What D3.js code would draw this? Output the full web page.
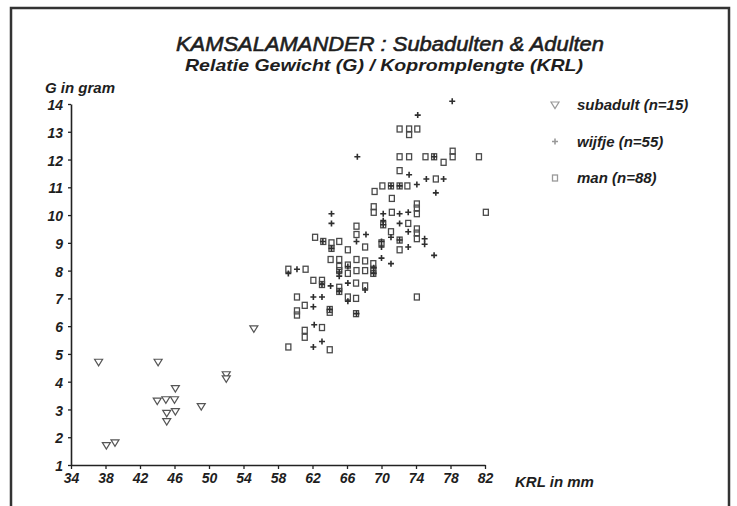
<!DOCTYPE html>
<html lang="nl">
<head>
  <meta charset="utf-8" />
  <script src="https://d3js.org/d3.v7.min.js"></script>
  <style>
    body { margin: 0; background: #fff; }
    svg text { fill: #1e1e1e; }
    .lbl { font-family: "Liberation Sans Narrow", "Liberation Sans", Arial, sans-serif; font-style: italic; font-weight: bold; }
  </style>
</head>
<body>
  <script>
    var width = 737,
      height = 506;

    // KRL (mm), G (gram)
    var xTicks = [34, 38, 42, 46, 50, 54, 58, 62, 66, 70, 74, 78, 82];
    var yTicks = [1, 2, 3, 4, 5, 6, 7, 8, 9, 10, 11, 12, 13, 14];

    var subadult = [
      [37.2, 4.7], [44.1, 4.7], [55.2, 5.9], [52.0, 4.25], [52.0, 4.1],
      [46.1, 3.75], [44.0, 3.3], [45.0, 3.35], [46.0, 3.35], [45.1, 2.86],
      [46.1, 2.92], [45.1, 2.56], [49.1, 3.1], [38.1, 1.7], [39.1, 1.8]
    ];

    var wijfje = [
      [78.2, 14.1], [74.2, 13.6], [67.2, 12.1], [76.1, 12.1], [73.2, 11.45],
      [75.2, 11.3], [77.2, 11.3], [71.1, 11.05], [72.1, 11.05], [74.1, 11.1],
      [76.3, 10.8], [70.2, 10.05], [70.2, 9.8], [72.1, 10.05], [64.2, 10.05],
      [64.2, 9.7], [72.1, 9.7], [73.1, 9.4], [75.0, 9.15], [75.0, 8.95],
      [67.1, 9.05], [68.2, 9.3], [70.0, 9.05], [70.0, 8.85], [72.1, 9.1],
      [73.1, 8.85], [76.1, 8.55], [63.2, 9.05], [64.2, 8.8], [70.0, 8.45],
      [71.1, 8.25], [69.1, 8.1], [66.1, 8.15], [65.1, 7.95], [59.2, 7.9],
      [60.2, 8.05], [63.1, 7.5], [64.1, 7.45], [66.1, 7.55], [65.1, 7.25],
      [68.1, 7.3], [62.1, 7.05], [63.1, 7.05], [66.1, 6.9], [62.1, 6.7],
      [64.0, 6.6], [67.1, 6.45], [62.2, 6.05], [63.1, 5.45], [62.1, 5.25],
      [71.1, 9.2], [69.1, 7.9], [65.1, 7.8], [70.2, 9.65], [73.1, 10.1]
    ];

    var man = [
      [72.1, 13.1], [73.2, 13.1], [73.2, 12.9], [74.15, 13.1], [72.1, 12.1],
      [73.2, 12.1], [75.1, 12.1], [77.2, 11.9], [78.25, 12.3], [78.25, 12.1],
      [81.3, 12.1], [72.1, 11.6], [76.3, 11.3], [69.2, 10.85], [70.1, 11.05],
      [73.0, 11.05], [82.1, 10.1], [71.2, 10.6], [69.1, 10.3], [69.1, 10.1],
      [71.2, 10.1], [74.1, 10.4], [74.1, 10.25], [74.1, 10.05], [73.1, 9.7],
      [74.1, 9.5], [74.1, 9.35], [74.1, 9.15], [71.1, 9.4], [67.1, 9.6],
      [67.1, 9.3], [72.1, 8.75], [62.3, 9.2], [64.2, 9.0], [65.1, 9.05],
      [66.1, 8.75], [68.1, 8.85], [67.1, 8.4], [68.1, 8.35], [69.05, 8.25],
      [69.05, 8.05], [64.1, 8.4], [65.1, 8.4], [65.1, 8.15], [66.1, 7.9],
      [67.1, 8.0], [68.1, 8.0], [59.2, 8.05], [61.2, 8.05], [62.1, 7.65],
      [63.1, 7.65], [65.1, 7.4], [67.05, 7.55], [68.1, 7.45], [60.2, 7.05],
      [66.1, 7.05], [67.05, 7.0], [74.1, 7.05], [61.1, 6.75], [64.0, 6.6],
      [60.2, 6.55], [60.2, 6.4], [63.1, 5.95], [61.1, 5.85], [61.1, 5.6],
      [64.0, 5.15], [59.2, 5.25], [76.1, 12.1], [71.1, 11.05], [72.1, 11.05],
      [70.2, 9.65], [63.1, 7.5], [65.1, 8.0], [69.05, 7.9], [70.0, 9.0],
      [72.1, 9.1], [64.2, 8.8], [63.25, 9.05], [65.1, 7.25], [66.1, 8.2],
      [64.0, 6.5], [67.05, 6.45]
    ];

    var legendItems = [
      { key: "subadult", label: "subadult  (n=15)" },
      { key: "wijfje", label: "wijfje  (n=55)" },
      { key: "man", label: "man  (n=88)" }
    ];

    var svg = d3.select("body")
      .append("svg")
      .attr("width", width)
      .attr("height", height);

    // page frame (scanned sheet border)
    svg.append("path")
      .attr("d", "M11,506 V8 H729 V506")
      .attr("fill", "none")
      .attr("stroke", "#333")
      .attr("stroke-width", 2.5);

    var x = d3.scaleLinear().domain([34, 82]).range([71, 485]);
    var y = d3.scaleLinear().domain([1, 14]).range([465, 104]);

    // titles
    svg.append("text")
      .attr("x", 390).attr("y", 51)
      .attr("text-anchor", "middle")
      .attr("font-family", "Liberation Sans, Arial, sans-serif")
      .attr("font-style", "italic")
      .attr("font-size", 21)
      .attr("stroke", "#1e1e1e")
      .attr("stroke-width", 0.6)
      .attr("textLength", 428)
      .attr("lengthAdjust", "spacingAndGlyphs")
      .text("KAMSALAMANDER : Subadulten & Adulten");

    svg.append("text")
      .attr("x", 384).attr("y", 71)
      .attr("text-anchor", "middle")
      .attr("font-family", "Liberation Sans, Arial, sans-serif")
      .attr("font-style", "italic")
      .attr("font-weight", "bold")
      .attr("font-size", 17)
      .attr("textLength", 398)
      .attr("lengthAdjust", "spacingAndGlyphs")
      .text("Relatie Gewicht (G)  /  Kopromplengte (KRL)");

    // axes
    var xAxis = svg.append("g")
      .attr("transform", "translate(0," + y(1) + ")")
      .call(d3.axisBottom(x).tickValues(xTicks).tickSize(4).tickSizeOuter(0).tickPadding(4));

    var yAxis = svg.append("g")
      .attr("transform", "translate(" + x(34) + ",0)")
      .call(d3.axisLeft(y).tickValues(yTicks).tickSize(3).tickSizeOuter(0).tickPadding(5));

    [xAxis, yAxis].forEach(function (g) {
      g.select(".domain").attr("stroke", "#222").attr("stroke-width", 1.6);
      g.selectAll(".tick line").attr("stroke", "#222").attr("stroke-width", 1.3);
      g.selectAll(".tick text")
        .attr("class", "lbl")
        .attr("font-size", 14)
        .attr("fill", "#1e1e1e");
    });
    yAxis.selectAll(".tick text").attr("dy", "0.4em");

    svg.append("text").attr("class", "lbl")
      .attr("x", 45).attr("y", 93)
      .attr("font-size", 15)
      .text("G in gram");

    svg.append("text").attr("class", "lbl")
      .attr("x", 515).attr("y", 487)
      .attr("font-size", 15)
      .text("KRL in mm");

    // marker shapes
    function drawMarker(sel, key, color) {
      if (key === "subadult") {
        sel.append("path")
          .attr("d", "M-4,-3 L4,-3 L0,3.5 Z")
          .attr("fill", "#fff")
          .attr("stroke", color)
          .attr("stroke-width", 1.2);
      } else if (key === "wijfje") {
        sel.append("path")
          .attr("d", "M-3,0 H3 M0,-3 V3")
          .attr("fill", "none")
          .attr("stroke", color)
          .attr("stroke-width", 1.6);
      } else {
        sel.append("rect")
          .attr("x", -2.5).attr("y", -3)
          .attr("width", 5).attr("height", 6)
          .attr("fill", "none")
          .attr("stroke", color)
          .attr("stroke-width", 1.3);
      }
    }

    var plot = svg.append("g");
    [["man", man, "#4a4a4a"], ["wijfje", wijfje, "#2e2e2e"], ["subadult", subadult, "#555"]].forEach(function (s) {
      plot.selectAll(".pt-" + s[0])
        .data(s[1])
        .enter().append("g")
        .attr("class", "pt-" + s[0])
        .attr("transform", function (d) { return "translate(" + x(d[0]) + "," + y(d[1]) + ")"; })
        .each(function () { drawMarker(d3.select(this), s[0], s[2]); });
    });

    // legend
    var legend = svg.append("g").selectAll("g")
      .data(legendItems)
      .enter().append("g")
      .attr("transform", function (d, i) { return "translate(555," + (105 + i * 36.5) + ")"; });

    legend.each(function (d) { drawMarker(d3.select(this), d.key, "#999"); });

    legend.append("text").attr("class", "lbl")
      .attr("x", 22).attr("y", 5)
      .attr("font-size", 15)
      .text(function (d) { return d.label; });
  </script>
</body>
</html>
